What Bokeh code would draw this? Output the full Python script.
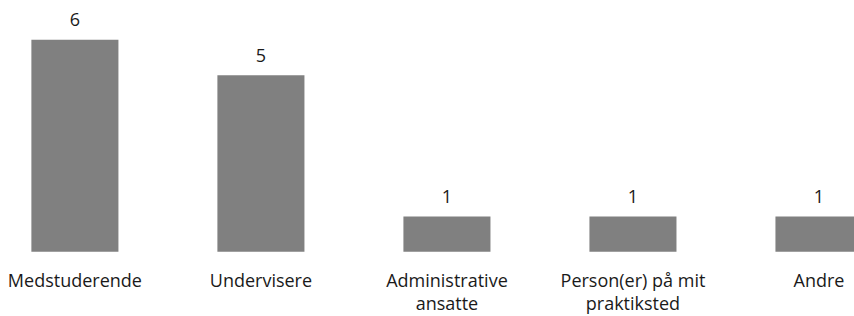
from bokeh.plotting import figure
from bokeh.models import ColumnDataSource, Range1d
from bokeh.core.properties import value
from bokeh.embed import file_html
from bokeh.resources import INLINE

categories = ["Medstuderende", "Undervisere", "Administrative\nansatte",
              "Person(er) på mit\npraktiksted", "Andre"]
counts = [6, 5, 1, 1, 1]

xs = list(range(len(categories)))
src = ColumnDataSource(dict(x=xs, top=counts, cat=categories,
                            lab=[str(c) for c in counts]))

p = figure(width=854, height=316, output_backend="svg", toolbar_location=None,
           x_range=Range1d(-0.4, 4.191), y_range=Range1d(-1.831, 7.113),
           min_border=0, outline_line_color=None)
p.axis.visible = False
p.grid.visible = False

p.vbar(x="x", top="top", bottom=0, width=0.468, source=src,
       fill_color="#808080", line_color=None)

font = value("Open Sans")
p.text(x="x", y="top", text="lab", source=src, text_font=font,
       text_font_size="18px", text_align="center", text_baseline="alphabetic",
       y_offset=-20, text_color="#1a1a1a")
p.text(x="x", y=0, text="cat", source=src, text_font=font,
       text_font_size="18px", text_align="center", text_baseline="top",
       y_offset=16, text_line_height=0.98, text_color="#1a1a1a")

open("out.html", "w").write(file_html(p, INLINE))
